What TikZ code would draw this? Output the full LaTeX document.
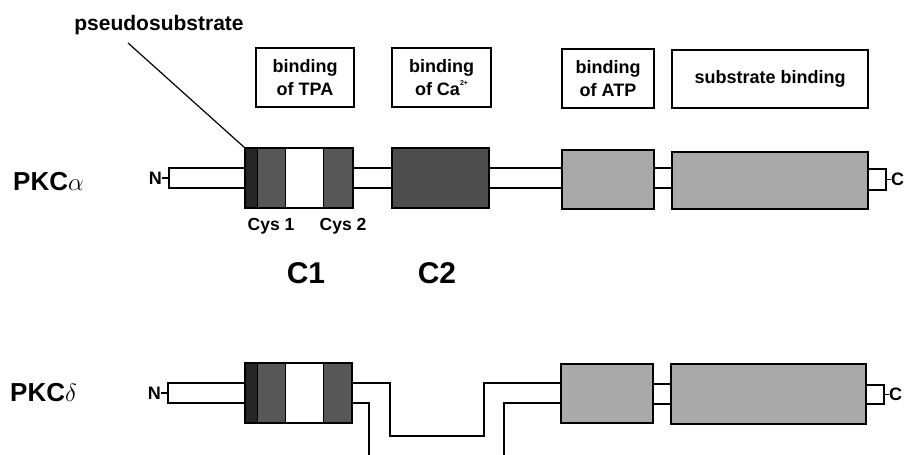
\documentclass[tikz,border=0pt]{standalone}
\usepackage{fontspec}
\setmainfont{Liberation Sans}
\definecolor{psdark}{HTML}{262626}
\definecolor{cysgray}{HTML}{575757}
\definecolor{ctwo}{HTML}{4D4D4D}
\definecolor{kgray}{HTML}{A9A9A9}
\begin{document}
\begin{tikzpicture}[x=1pt,y=-1pt,
  blk/.style={draw, line width=1.6pt, inner sep=0pt, outer sep=0pt, anchor=north west},
  stripe/.style={draw, line width=0.9pt, inner sep=0pt, outer sep=0pt, anchor=north west},
  lnk/.style={line width=1.6pt},
  lbl/.style={font=\fontsize{18}{22.5}\selectfont\bfseries, align=center, inner sep=0pt},
  big/.style={font=\fontsize{26}{30}\selectfont\bfseries, inner sep=0pt, anchor=west},
  dom/.style={font=\fontsize{30}{34}\selectfont\bfseries, inner sep=0pt},
  cys/.style={font=\fontsize{17.5}{20}\selectfont\bfseries, inner sep=0pt},
  term/.style={font=\fontsize{18}{20}\selectfont\bfseries, inner sep=0pt}]
\useasboundingbox (0,0) rectangle (911,455);

% ---------- header boxes ----------
\node[font=\fontsize{21}{23}\selectfont\bfseries, inner sep=0pt] (pslbl) at (159,25) {pseudosubstrate};
\node[blk, minimum width=98, minimum height=59] (tpa) at (256,48) {};
\node[lbl] at (tpa.center) {binding\\of TPA};
\node[blk, minimum width=99, minimum height=59] (ca) at (392,48) {};
\node[lbl] at (ca.center) {binding\\of Ca{\raisebox{0.55em}{\fontsize{7}{7}\selectfont 2+}}};
\node[blk, minimum width=92, minimum height=59] (atp) at (562,49) {};
\node[lbl] at (atp.center) {binding\\of ATP};
\node[blk, minimum width=196, minimum height=58] (sub) at (672,50) {};
\node[lbl] at (sub.center) {substrate binding};

% ---------- PKC alpha ----------
\node[big] (pkca) at (13,182) {PKC{\mdseries$\alpha$}};
\coordinate (ta) at (0,168);
\coordinate (ba) at (0,188);
\node[blk, fill=white, minimum width=76, minimum height=20] (nla) at (169,168) {};
\node[term, anchor=east] (na) at (162,178) {N};
\draw[line width=1.2pt] (na.east) -- (nla.west);
% C1 block
\node[stripe, fill=psdark, minimum width=12, minimum height=60] (psa) at (245,148) {};
\node[stripe, fill=cysgray, minimum width=28, minimum height=60] (cys1a) at (257,148) {};
\node[stripe, fill=white, minimum width=38, minimum height=60] (wa) at (285,148) {};
\node[stripe, fill=cysgray, minimum width=30, minimum height=60] (cys2a) at (323,148) {};
\node[blk, minimum width=108, minimum height=60] (c1a) at (245,148) {};
\node[blk, fill=ctwo, minimum width=97, minimum height=60] (c2a) at (392,148) {};
\node[blk, fill=kgray, minimum width=92, minimum height=59] (atpa) at (562,150) {};
\node[blk, fill=kgray, minimum width=196, minimum height=57] (suba) at (672,152) {};
\node[blk, fill=white, minimum width=18, minimum height=21] (cta) at (868,169) {};
\node[term, anchor=west] (cla) at (891,179.5) {C};
\draw[line width=1.2pt] (cta.east) -- (cla.west);
\draw[lnk] (c1a.east |- ta) -- (c2a.west |- ta);
\draw[lnk] (c1a.east |- ba) -- (c2a.west |- ba);
\draw[lnk] (c2a.east |- ta) -- (atpa.west |- ta);
\draw[lnk] (c2a.east |- ba) -- (atpa.west |- ba);
\draw[lnk] (atpa.east |- ta) -- (suba.west |- ta);
\draw[lnk] (atpa.east |- ba) -- (suba.west |- ba);
\coordinate (psstart) at ([shift={(-31,8)}]pslbl.south);
\draw[line width=1.2pt] (psstart) -- (psa.north west);
\node[cys] (cys1lbl) at (271,226) {Cys 1};
\node[cys] (cys2lbl) at (343,226) {Cys 2};
\node[dom] (c1lbl) at (306,273) {C1};
\node[dom] (c2lbl) at (437,273) {C2};

% ---------- PKC delta ----------
\node[big] (pkcd) at (10,393) {PKC{\mdseries$\delta$}};
\coordinate (td) at (0,383);
\coordinate (bd) at (0,403);
\node[blk, fill=white, minimum width=77, minimum height=20] (nld) at (168,383) {};
\node[term, anchor=east] (nd) at (161,393) {N};
\draw[line width=1.2pt] (nd.east) -- (nld.west);
\node[stripe, fill=psdark, minimum width=12, minimum height=60] (psd) at (245,363) {};
\node[stripe, fill=cysgray, minimum width=28, minimum height=60] (cys1d) at (257,363) {};
\node[stripe, fill=white, minimum width=38, minimum height=60] (wd) at (285,363) {};
\node[stripe, fill=cysgray, minimum width=29, minimum height=60] (cys2d) at (323,363) {};
\node[blk, minimum width=107, minimum height=60] (c1d) at (245,363) {};
\node[blk, fill=kgray, minimum width=92, minimum height=59] (atpd) at (561,364) {};
\node[blk, fill=kgray, minimum width=195, minimum height=60] (subd) at (671,364) {};
\node[blk, fill=white, minimum width=18, minimum height=19] (ctd) at (866,385) {};
\node[term, anchor=west] (cld) at (889,394.5) {C};
\draw[line width=1.2pt] (ctd.east) -- (cld.west);
\draw[lnk] (atpd.east |- 0,384) -- (subd.west |- 0,384);
\draw[lnk] (atpd.east |- 0,404) -- (subd.west |- 0,404);
% broken hinge linker
\coordinate (u1) at (390,383);
\coordinate (u2) at (390,436);
\coordinate (u3) at (484,436);
\coordinate (u4) at (484,383);
\coordinate (l1) at (369,403);
\coordinate (l2) at (369,455);
\coordinate (l3) at (504,455);
\coordinate (l4) at (504,403);
\draw[lnk] (c1d.east |- td) -- (u1) -- (u2) -- (u3) -- (u4) -- (atpd.west |- td);
\draw[lnk] (c1d.east |- bd) -- (l1) -- (l2);
\draw[lnk] (l3) -- (l4) -- (atpd.west |- bd);
\end{tikzpicture}
\end{document}
